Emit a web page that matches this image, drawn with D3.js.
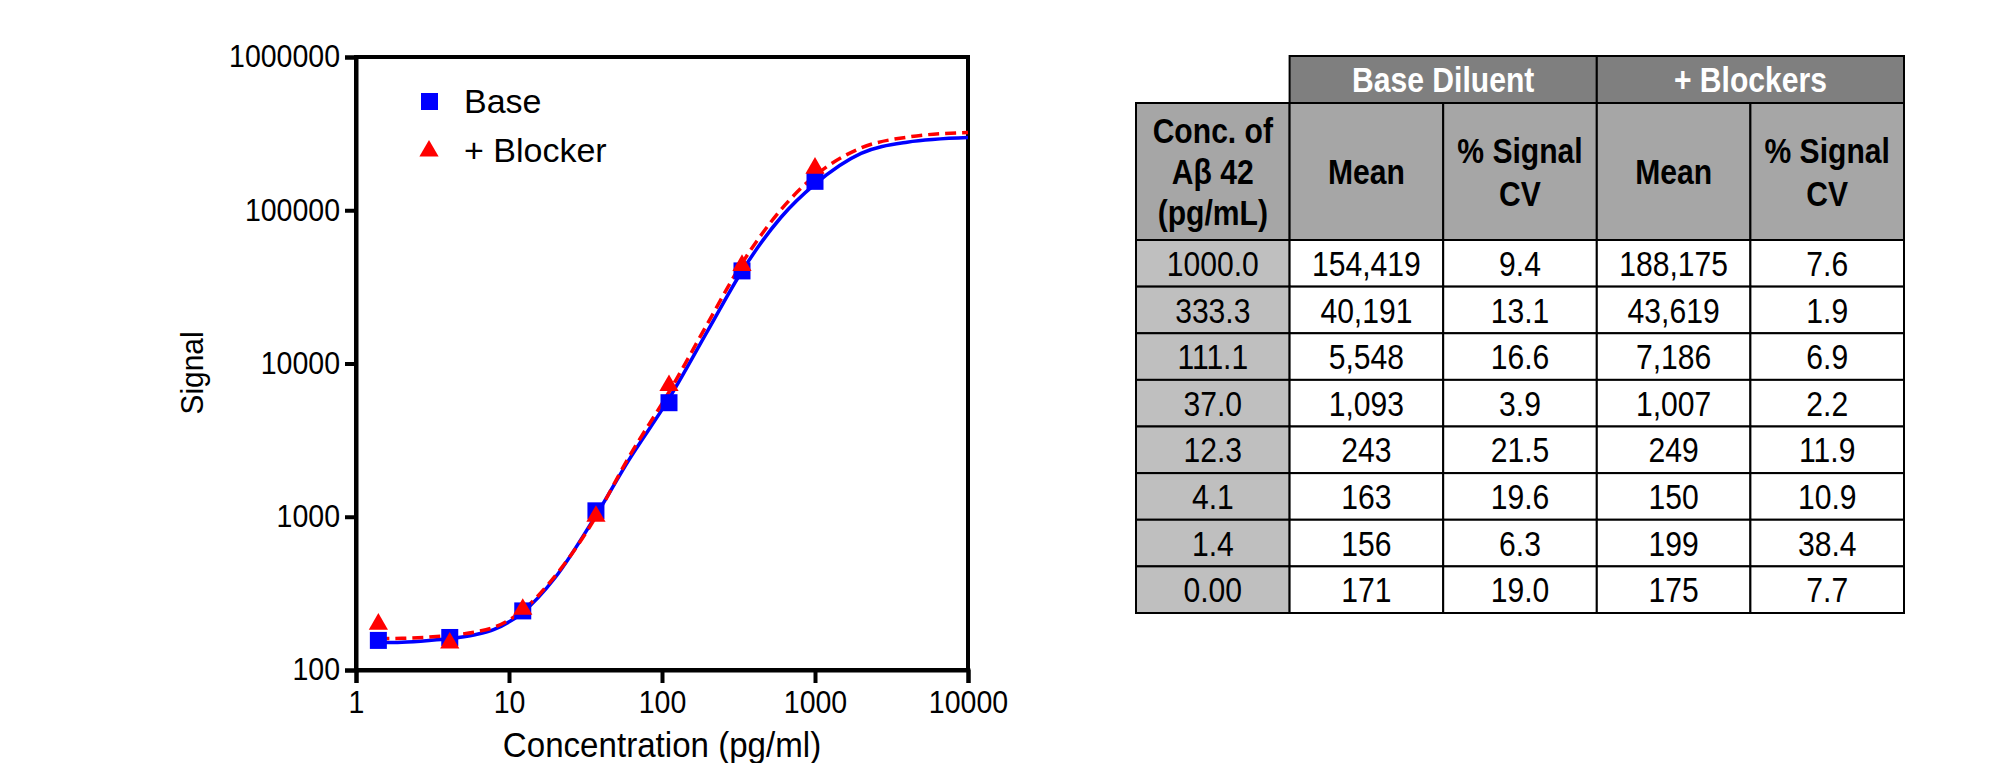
<!DOCTYPE html>
<html>
<head>
<meta charset="utf-8">
<script src="https://cdn.jsdelivr.net/npm/d3@7"></script>
<style>
  body { margin: 0; background: #fff; }
  svg text { font-family: "Liberation Sans", Arial, sans-serif; }
</style>
</head>
<body>
<svg id="chart" width="2013" height="763"></svg>
<script>
// measured points (pg/mL) and mean signal
var concLabels = ["1000.0", "333.3", "111.1", "37.0", "12.3", "4.1", "1.4", "0.00"];
var conc = [1000, 333.3, 111.1, 37.0, 12.3, 4.1, 1.4, 0];
var baseMean = [154419, 40191, 5548, 1093, 243, 163, 156, 171];
var baseCV = [9.4, 13.1, 16.6, 3.9, 21.5, 19.6, 6.3, 19.0];
var blockMean = [188175, 43619, 7186, 1007, 249, 150, 199, 175];
var blockCV = [7.6, 1.9, 6.9, 2.2, 11.9, 10.9, 38.4, 7.7];

// fitted curves
var fitX = [1.4, 2, 3, 4, 6, 8, 12.3, 20, 37, 60, 111, 200, 333, 600, 1000, 2000, 4000, 10000];
var baseFit = [151, 152, 156, 160, 170, 184, 238, 400, 1020, 2300, 5900, 16500, 40000, 90000, 148000, 235000, 278000, 298000];
var blockFit = [160, 161, 164, 168, 177, 190, 245, 410, 1000, 2400, 6500, 18500, 45000, 101000, 168000, 255000, 300000, 322000];

var xTicks = [1, 10, 100, 1000, 10000];
var yTicks = [100, 1000, 10000, 100000, 1000000];

var svg = d3.select("#chart");

// narrow text: scale glyphs horizontally around the anchor point
function squeeze(sel, sx) {
    sel.each(function () {
        var t = d3.select(this);
        var px = +t.attr("x") || 0, py = +t.attr("y") || 0;
        t.attr("x", 0).attr("y", 0)
            .attr("transform", "translate(" + px + "," + py + ") scale(" + sx + ",1)");
    });
}

var x = d3.scaleLog().domain([1, 10000]).range([356, 968]);
var y = d3.scaleLog().domain([100, 1000000]).range([670, 57]);

// frame
svg.append("rect")
    .attr("x", x(1)).attr("y", y(1000000))
    .attr("width", x(10000) - x(1)).attr("height", y(100) - y(1000000))
    .attr("fill", "none").attr("stroke", "#000").attr("stroke-width", 4);

var xAxis = svg.append("g")
    .attr("transform", "translate(0," + y(100) + ")")
    .call(d3.axisBottom(x).tickValues(xTicks).tickFormat(d3.format("d")).tickSize(13).tickPadding(7));
var yAxis = svg.append("g")
    .attr("transform", "translate(" + x(1) + ",0)")
    .call(d3.axisLeft(y).tickValues(yTicks).tickFormat(d3.format("d")).tickSize(11).tickPadding(5));

[xAxis, yAxis].forEach(function (g) {
    g.select(".domain").attr("stroke-width", 4);
    g.selectAll(".tick line").attr("stroke-width", 4);
    g.selectAll(".tick text").attr("font-size", 31).attr("fill", "#000");
});
xAxis.selectAll(".tick text").attr("dy", "0.75em");
squeeze(xAxis.selectAll(".tick text"), 0.92);
squeeze(yAxis.selectAll(".tick text"), 0.92);

var xTitle = svg.append("text")
    .attr("x", (x(1) + x(10000)) / 2).attr("y", 757)
    .attr("text-anchor", "middle").attr("font-size", 36)
    .text("Concentration (pg/ml)");
squeeze(xTitle, 0.92);

svg.append("text")
    .attr("transform", "translate(203,373) rotate(-90) scale(0.88,0.9)")
    .attr("text-anchor", "middle").attr("font-size", 34)
    .text("Signal");

// curves
svg.append("clipPath").attr("id", "plotclip").append("rect")
    .attr("x", x(1)).attr("y", y(1000000))
    .attr("width", x(10000) - x(1)).attr("height", y(100) - y(1000000));

var line = d3.line()
    .x(function (d) { return x(d[0]); })
    .y(function (d) { return y(d[1]); })
    .curve(d3.curveMonotoneX);

svg.append("path")
    .datum(d3.zip(fitX, baseFit))
    .attr("d", line)
    .attr("fill", "none").attr("stroke", "#0000ff").attr("stroke-width", 3.5)
    .attr("clip-path", "url(#plotclip)");

svg.append("path")
    .datum(d3.zip(fitX, blockFit))
    .attr("d", line)
    .attr("fill", "none").attr("stroke", "#ff0000").attr("stroke-width", 3.5)
    .attr("stroke-dasharray", "11,6")
    .attr("clip-path", "url(#plotclip)");

var pts = conc.map(function (c, i) { return { c: c, base: baseMean[i], block: blockMean[i] }; })
    .filter(function (d) { return d.c > 0; });

var sq = 17;
svg.selectAll("rect.sq").data(pts).enter().append("rect")
    .attr("class", "sq")
    .attr("x", function (d) { return x(d.c) - sq / 2; })
    .attr("y", function (d) { return y(d.base) - sq / 2; })
    .attr("width", sq).attr("height", sq)
    .attr("fill", "#0000ff");

var tri = d3.symbol().type(d3.symbolTriangle).size(160);
svg.selectAll("path.tri").data(pts).enter().append("path")
    .attr("class", "tri")
    .attr("transform", function (d) { return "translate(" + x(d.c) + "," + y(d.block) + ")"; })
    .attr("d", tri)
    .attr("fill", "#ff0000");

// legend
var legend = svg.append("g");
legend.append("rect").attr("x", 421).attr("y", 93).attr("width", sq).attr("height", sq).attr("fill", "#0000ff");
legend.append("path").attr("transform", "translate(429,151)").attr("d", tri).attr("fill", "#ff0000");
legend.append("text").attr("x", 464).attr("y", 113).attr("font-size", 34).text("Base");
legend.append("text").attr("x", 464).attr("y", 162).attr("font-size", 34).text("+ Blocker");

// table
var colX = d3.scaleBand().domain(d3.range(5)).range([1136, 1904]);
var head1Y = 56, head2Y = 103, bodyY = 240, rowH = (613 - 240) / 8;
var tSize = 35, tSx = 0.86;

var groups = [
    { label: "Base Diluent", c0: 1, c1: 3 },
    { label: "+ Blockers", c0: 3, c1: 5 }
];
var subHeads = [
    ["Conc. of", "A\u03b2 42", "(pg/mL)"],
    ["Mean"],
    ["% Signal", "CV"],
    ["Mean"],
    ["% Signal", "CV"]
];

var table = svg.append("g");

var g1 = table.selectAll("g.h1").data(groups).enter().append("g").attr("class", "h1");
g1.append("rect")
    .attr("x", function (d) { return colX(d.c0); })
    .attr("y", head1Y)
    .attr("width", function (d) { return colX.bandwidth() * (d.c1 - d.c0); })
    .attr("height", head2Y - head1Y)
    .attr("fill", "#7f7f7f").attr("stroke", "#000").attr("stroke-width", 2);
g1.append("text")
    .attr("x", function (d) { return colX(d.c0) + colX.bandwidth() * (d.c1 - d.c0) / 2; })
    .attr("y", (head1Y + head2Y) / 2)
    .attr("dy", "0.36em")
    .attr("text-anchor", "middle").attr("font-size", tSize).attr("font-weight", "bold")
    .attr("fill", "#fff")
    .text(function (d) { return d.label; });
squeeze(g1.selectAll("text"), tSx);

var g2 = table.selectAll("g.h2").data(subHeads).enter().append("g").attr("class", "h2");
g2.append("rect")
    .attr("x", function (d, i) { return colX(i); })
    .attr("y", head2Y)
    .attr("width", colX.bandwidth()).attr("height", bodyY - head2Y)
    .attr("fill", "#a6a6a6").attr("stroke", "#000").attr("stroke-width", 2);
g2.each(function (lines, i) {
    var lh = lines.length > 2 ? 41 : 43;
    var top = (head2Y + bodyY) / 2 - (lines.length - 1) * lh / 2;
    d3.select(this).selectAll("text").data(lines).enter().append("text")
        .attr("x", colX(i) + colX.bandwidth() / 2)
        .attr("y", function (d, k) { return top + k * lh; })
        .attr("dy", "0.36em")
        .attr("text-anchor", "middle").attr("font-size", tSize).attr("font-weight", "bold")
        .attr("fill", "#000")
        .text(function (d) { return d; });
});
squeeze(g2.selectAll("text"), tSx);

var fmtInt = d3.format(",");
var fmtCV = d3.format(".1f");
var rows = concLabels.map(function (c, i) {
    return [c, fmtInt(baseMean[i]), fmtCV(baseCV[i]), fmtInt(blockMean[i]), fmtCV(blockCV[i])];
});

var rowG = table.selectAll("g.row").data(rows).enter().append("g").attr("class", "row")
    .attr("transform", function (d, i) { return "translate(0," + (bodyY + i * rowH) + ")"; });
rowG.selectAll("rect").data(function (d) { return d; }).enter().append("rect")
    .attr("x", function (d, i) { return colX(i); })
    .attr("y", 0)
    .attr("width", colX.bandwidth()).attr("height", rowH)
    .attr("fill", function (d, i) { return i === 0 ? "#bfbfbf" : "#fff"; })
    .attr("stroke", "#000").attr("stroke-width", 2);
rowG.selectAll("text").data(function (d) { return d; }).enter().append("text")
    .attr("x", function (d, i) { return colX(i) + colX.bandwidth() / 2; })
    .attr("y", rowH / 2)
    .attr("dy", "0.36em")
    .attr("text-anchor", "middle").attr("font-size", tSize)
    .attr("fill", "#000")
    .text(function (d) { return d; });
squeeze(rowG.selectAll("text"), tSx);
</script>
</body>
</html>
